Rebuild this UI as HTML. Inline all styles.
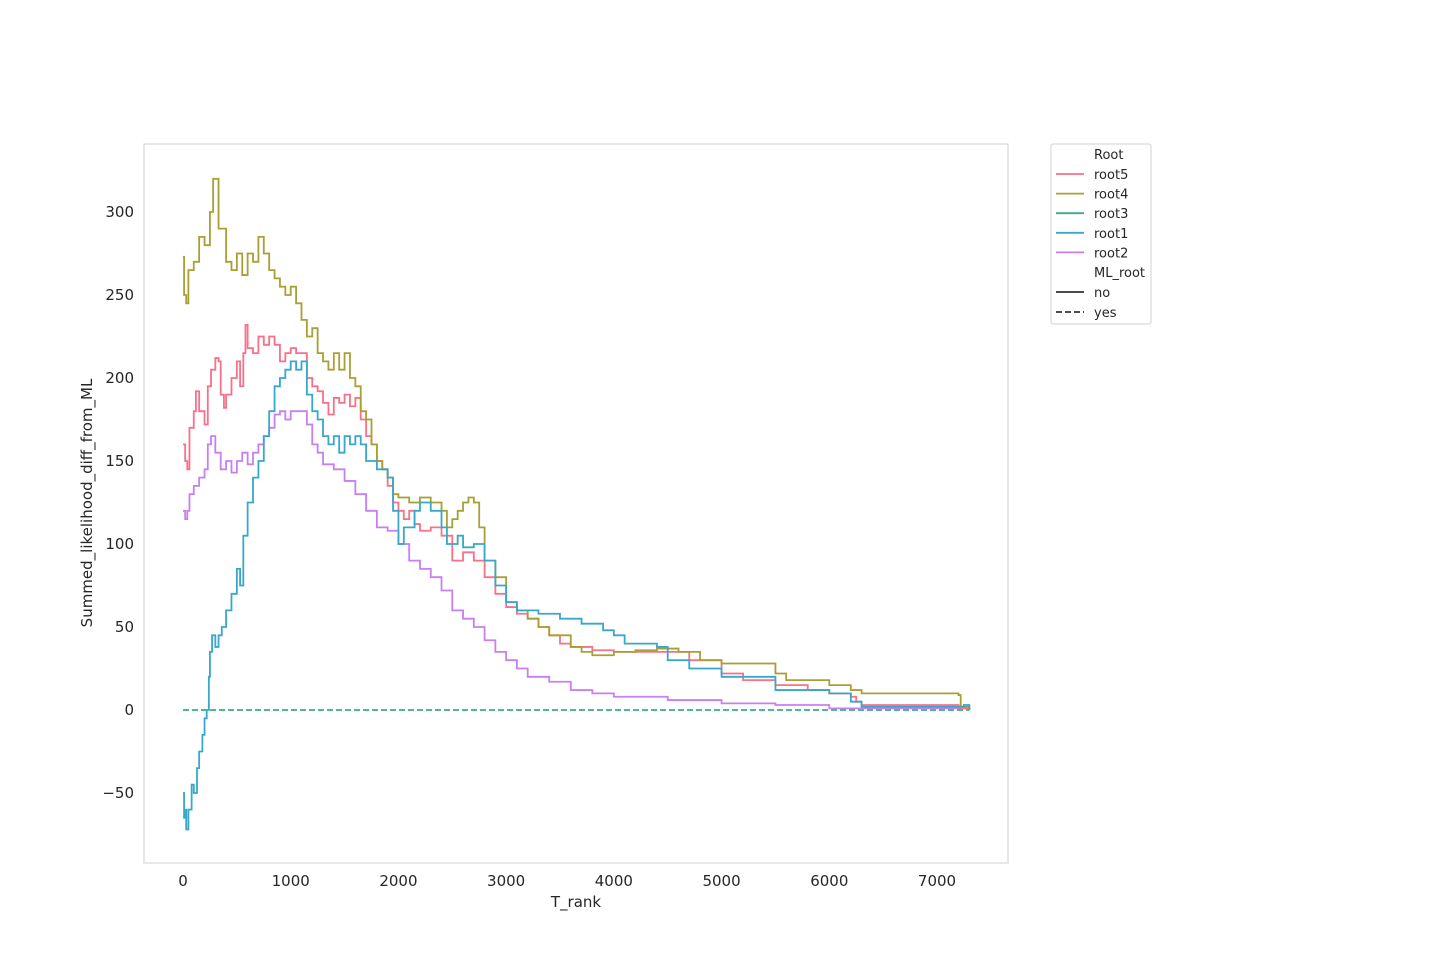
<!DOCTYPE html>
<html><head><meta charset="utf-8"><style>
body{margin:0;background:#fff;font-family:"DejaVu Sans","Liberation Sans",sans-serif;}
svg text{font-family:"DejaVu Sans","Liberation Sans",sans-serif;fill:#262626;}
</style></head><body>
<svg id="chart" width="1440" height="960">
<rect x="144" y="144" width="864" height="719" fill="#fff" stroke="#d0d0d0"/>
<g id="ticks"></g><g id="lines"></g>
<text x="576" y="907" font-size="15" text-anchor="middle">T_rank</text>
<text transform="translate(92,503) rotate(-90)" font-size="15" text-anchor="middle">Summed_likelihood_diff_from_ML</text>
<g>
<rect x="1051" y="144" width="100" height="180" fill="#fff" stroke="#d0d0d0" rx="2"/>
<text x="1094" y="159" font-size="13">Root</text>
<g id="leg"></g>
<text x="1094" y="277" font-size="13">ML_root</text>
<line x1="1056" x2="1084" y1="292" y2="292" stroke="#333" stroke-width="1.8"/>
<text x="1094" y="297" font-size="13">no</text>
<line x1="1056" x2="1084" y1="312" y2="312" stroke="#333" stroke-width="1.8" stroke-dasharray="6,3"/>
<text x="1094" y="317" font-size="13">yes</text>
</g>
</svg>
<script>
const xTicks=[0,1000,2000,3000,4000,5000,6000,7000];
const yTicks=[-50,0,50,100,150,200,250,300];
const seriesNames=["root5","root4","root3","root1","root2"];
const seriesColors=["#f77189","#a8a035","#36ad8a","#38a7c9","#c77ff2"];
const root4X=[0,10,30,50,100,150,200,250,280,310,330,400,450,500,550,600,650,700,750,800,850,900,950,1000,1050,1100,1150,1200,1250,1300,1350,1400,1450,1500,1550,1600,1650,1700,1750,1800,1850,1900,1950,2000,2100,2200,2300,2400,2450,2500,2550,2600,2650,2700,2750,2800,2900,3000,3100,3200,3300,3400,3500,3600,3700,3800,4000,4200,4400,4600,4800,5000,5400,5500,5600,6000,6200,6250,6300,7000,7200,7220,7300];
const root4Y=[273,250,245,265,270,285,280,300,320,320,290,270,265,275,262,275,270,285,275,265,260,255,250,255,245,235,225,230,215,210,205,215,205,215,200,195,180,175,160,150,145,140,130,128,125,128,125,120,110,115,120,125,128,125,110,90,80,65,60,55,50,45,45,38,35,33,35,36,37,35,30,28,28,22,18,15,12,12,10,10,9,2,0];
const root5X=[0,20,40,60,100,120,150,200,230,260,300,330,350,380,400,450,500,530,560,580,600,650,700,750,800,850,900,950,1000,1050,1100,1150,1200,1250,1300,1350,1400,1450,1500,1550,1600,1650,1700,1750,1800,1850,1900,1950,2000,2050,2100,2150,2200,2300,2400,2500,2600,2700,2800,2900,3000,3100,3200,3300,3400,3500,3600,3800,4000,4200,4500,4700,5000,5200,5500,5800,6000,6200,6250,6300,7200,7300];
const root5Y=[160,150,145,170,180,192,180,172,195,205,212,210,190,182,190,200,210,195,215,232,218,215,225,220,225,220,210,215,218,215,215,200,195,192,185,178,188,185,190,183,188,175,165,160,150,145,135,125,120,115,120,112,108,110,105,90,95,90,80,70,62,58,55,50,45,40,38,36,35,35,35,30,22,18,15,12,10,8,5,3,1,0];
const root3X=[0,7300];
const root3Y=[0,0];
const root1X=[0,10,20,30,50,80,100,130,150,180,200,220,240,250,270,300,330,360,400,450,500,530,560,600,650,700,750,800,850,900,950,1000,1050,1100,1150,1200,1250,1300,1350,1400,1450,1500,1550,1600,1650,1700,1800,1900,1950,2000,2050,2150,2200,2300,2400,2450,2550,2600,2700,2800,2900,3000,3100,3300,3500,3700,3900,4000,4100,4300,4400,4500,4700,5000,5500,6000,6200,6300,7200,7250,7300];
const root1Y=[-50,-65,-60,-72,-60,-45,-50,-35,-25,-15,-5,0,20,35,45,38,45,50,60,70,85,75,105,125,140,150,165,180,195,200,205,210,205,210,190,180,175,165,160,165,155,165,160,165,160,150,145,140,120,100,110,120,125,120,110,100,105,98,100,90,75,65,60,58,55,52,48,45,40,40,38,30,25,20,12,10,5,2,2,3,0];
const root2X=[0,20,40,60,100,150,200,230,260,300,350,400,450,500,550,600,650,700,750,800,850,900,950,1000,1100,1150,1200,1250,1300,1400,1500,1600,1700,1800,1900,2000,2100,2200,2300,2400,2500,2600,2700,2800,2900,3000,3100,3200,3400,3600,3800,4000,4500,5000,5500,6000,7300];
const root2Y=[120,115,120,130,135,140,145,160,165,155,145,150,143,150,155,148,155,160,165,170,178,180,175,180,180,172,160,155,148,145,138,130,120,110,108,100,90,85,80,72,60,55,50,42,35,30,25,20,17,12,10,8,6,4,3,1,0];
const sx=v=>183+v*(937-183)/7000;
const sy=v=>710-v*(710-212)/300;
const NS="http://www.w3.org/2000/svg";
const tk=document.getElementById('ticks');
xTicks.forEach(t=>{const e=document.createElementNS(NS,'text');e.setAttribute('x',sx(t));e.setAttribute('y',886);e.setAttribute('font-size','15');e.setAttribute('text-anchor','middle');e.textContent=t;


tk.appendChild(e);});
yTicks.forEach(t=>{const e=document.createElementNS(NS,'text');e.setAttribute('x',134);e.setAttribute('y',sy(t)+5);e.setAttribute('font-size','15');e.setAttribute('text-anchor','end');e.textContent=t<0?'\u2212'+(-t):t;


tk.appendChild(e);});
const data={root5:[root5X,root5Y],root4:[root4X,root4Y],root3:[root3X,root3Y],root1:[root1X,root1Y],root2:[root2X,root2Y]};
const order=["root3","root2","root5","root4","root1"];
const lg=document.getElementById('lines');
order.forEach(n=>{const i=seriesNames.indexOf(n);const [X,Y]=data[n];let d='';
X.forEach((x,j)=>{if(j==0)d+='M'+sx(x)+','+sy(Y[j]);else d+='H'+sx(x)+'V'+sy(Y[j]);});
const p=document.createElementNS(NS,'path');p.setAttribute('d',d);p.setAttribute('fill','none');p.setAttribute('stroke',seriesColors[i]);p.setAttribute('stroke-width','1.8');
if(n=='root3')p.setAttribute('stroke-dasharray','6,3');


lg.appendChild(p);});
const leg=document.getElementById('leg');
seriesNames.forEach((n,i)=>{const y=174+i*19.6;
const l=document.createElementNS(NS,'line');l.setAttribute('x1',1056);l.setAttribute('x2',1084);l.setAttribute('y1',y);l.setAttribute('y2',y);l.setAttribute('stroke',seriesColors[i]);l.setAttribute('stroke-width','1.8');leg.appendChild(l);
const t=document.createElementNS(NS,'text');t.setAttribute('x',1094);t.setAttribute('y',y+5);t.setAttribute('font-size','13');t.textContent=n;


leg.appendChild(t);});
</script>
</body></html>
